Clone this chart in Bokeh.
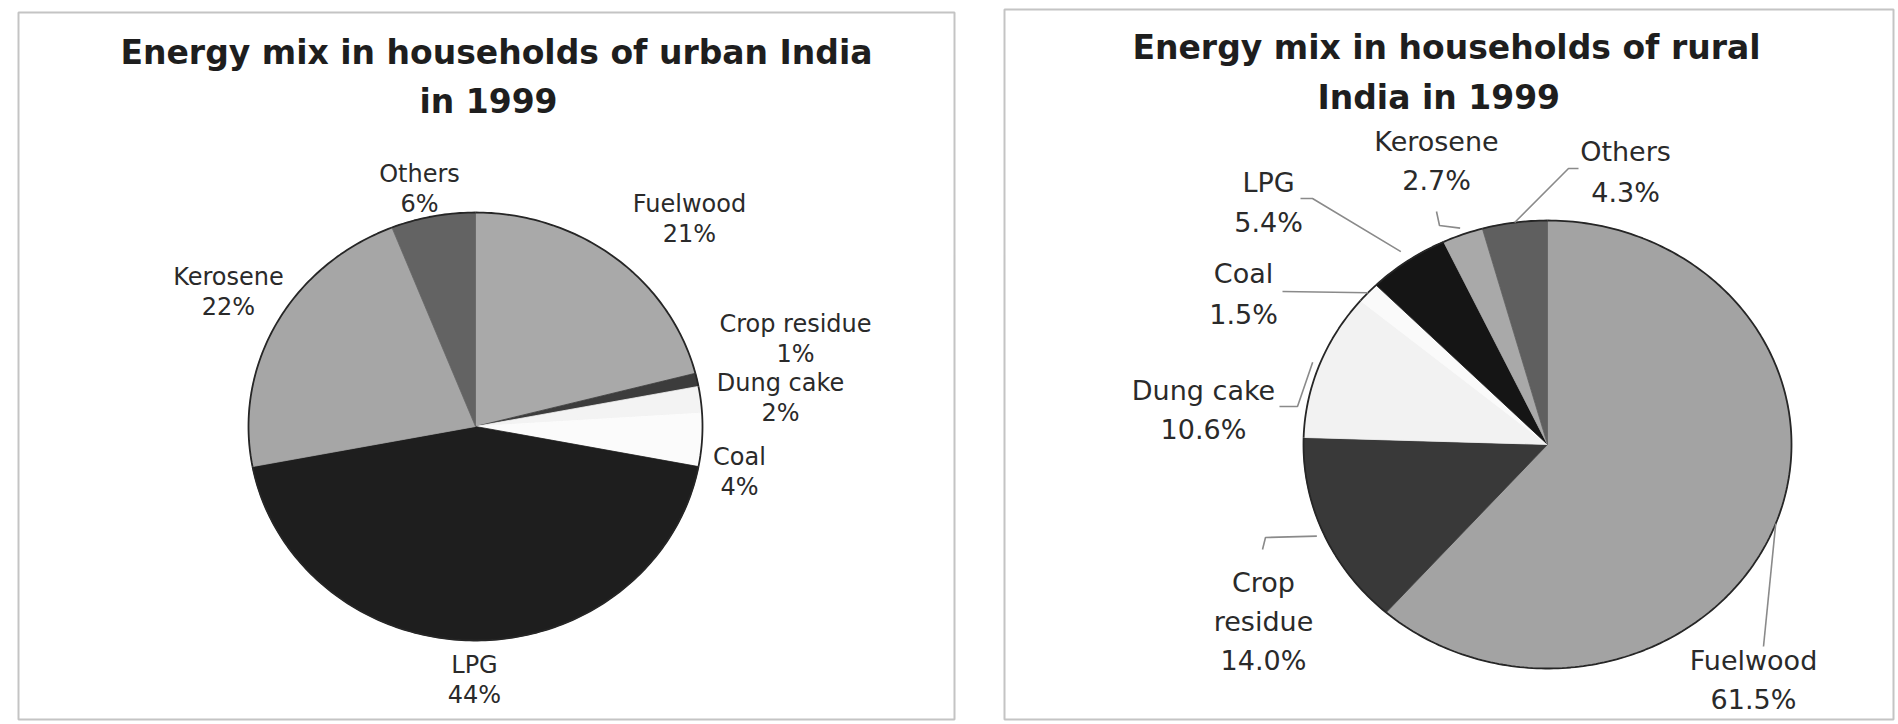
import numpy as np
from bokeh.plotting import figure
from bokeh.models import Range1d, ColumnDataSource
from bokeh.core.properties import value
from bokeh.embed import file_html
from bokeh.resources import INLINE

# ---------------- data ----------------
categories = ["Fuelwood", "Crop residue", "Dung cake", "Coal", "LPG", "Kerosene", "Others"]
urban_values = [21, 1, 2, 4, 44, 22, 6]
urban_pct = ["21%", "1%", "2%", "4%", "44%", "22%", "6%"]
rural_values = [61.5, 14.0, 10.6, 1.5, 5.4, 2.7, 4.3]
rural_pct = ["61.5%", "14.0%", "10.6%", "1.5%", "5.4%", "2.7%", "4.3%"]
urban_title = ["Energy mix in households of urban India", "in 1999"]
rural_title = ["Energy mix in households of rural", "India in  1999"]

# ---------------- styles / layout ----------------
urban_colors = ["#a9a9a9", "#3c3c3c", "#f3f3f3", "#fbfbfb", "#1e1e1e", "#a6a6a6", "#636363"]
rural_colors = ["#a3a3a3", "#393939", "#f2f2f2", "#fafafa", "#151515", "#a9a9a9", "#5f5f5f"]
FONT = "DejaVu Sans"

# ellipse geometry of each pie (page pixels): cx, cy, rx, ry
urban_geo = (475, 426, 227, 214)
rural_geo = (1547, 444, 244, 224)

# label placement: (x, first line y, line spacing, name lines)
urban_label_pos = {
    "Fuelwood": (689, 203, 30, ["Fuelwood"]),
    "Crop residue": (795, 323, 30, ["Crop residue"]),
    "Dung cake": (780, 382, 30, ["Dung cake"]),
    "Coal": (739, 456, 30, ["Coal"]),
    "LPG": (474, 664, 30, ["LPG"]),
    "Kerosene": (228, 276, 30, ["Kerosene"]),
    "Others": (419, 173, 30, ["Others"]),
}
rural_label_pos = {
    "Fuelwood": (1753, 660, 39, ["Fuelwood"]),
    "Crop residue": (1263, 582, 39, ["Crop", "residue"]),
    "Dung cake": (1203, 390, 39, ["Dung cake"]),
    "Coal": (1243, 273, 41, ["Coal"]),
    "LPG": (1268, 182, 40, ["LPG"]),
    "Kerosene": (1436, 141, 39, ["Kerosene"]),
    "Others": (1625, 151, 41, ["Others"]),
}
# leader lines: fixed label-side points, then slice edge at mid angle * factor
rural_leaders = {
    "Others": ([(1578, 168), (1568, 168)], 1.0),
    "Kerosene": ([(1436, 211), (1439, 225)], 1.03),
    "LPG": ([(1300, 198), (1312, 198)], 1.05),
    "Coal": ([(1282, 291)], 1.0),
    "Dung cake": ([(1279, 406), (1297, 406)], 1.03),
    "Crop residue": ([(1262, 549), (1265, 537)], 1.03),
    "Fuelwood": ([(1763, 646)], 1.0),
}

W, H = 1896, 722
p = figure(width=W, height=H, x_range=Range1d(0, W), y_range=Range1d(H, 0),
           output_backend="svg", toolbar_location=None, min_border=0, title=None,
           outline_line_color=None, background_fill_color="white")
p.axis.visible = False
p.grid.visible = False

# panel borders
p.quad(left=[18, 1004], right=[954, 1893], top=[12, 9], bottom=[719, 719],
       fill_color=None, line_color="#c4c4c4", line_width=2)


def slice_angles(vals):
    vals = np.asarray(vals, dtype=float)
    cum = np.concatenate([[0], np.cumsum(vals)]) / vals.sum()
    start = np.deg2rad(90 - 360 * cum[:-1])
    end = np.deg2rad(90 - 360 * cum[1:])
    return start, end


def ellipse_pt(geo, t, f=1.0):
    cx, cy, rx, ry = geo
    return cx + f * rx * np.cos(t), cy - f * ry * np.sin(t)


def draw_pie(vals, colors, geo):
    s, e = slice_angles(vals)
    xs, ys, axs, ays = [], [], [], []
    for a, b in zip(s, e):
        n = max(4, int(abs(b - a) / np.deg2rad(1)) + 2)
        t = np.linspace(a, b, n)
        ex, ey = ellipse_pt(geo, t)
        xs.append([geo[0]] + list(ex))
        ys.append([geo[1]] + list(ey))
        axs.append(list(ex))
        ays.append(list(ey))
    src = ColumnDataSource(dict(xs=xs, ys=ys, color=colors, name=categories))
    p.patches("xs", "ys", source=src, fill_color="color", line_color="color",
              line_width=0.8, line_join="round")
    # outer outline of the pie, traced along every slice's arc
    p.multi_line(axs, ays, line_color="#262626", line_width=1.8)
    return s, e


def draw_labels(pos, pcts, size):
    xs, ys, txt = [], [], []
    for name, pct in zip(categories, pcts):
        x, y, dy, lines = pos[name]
        for k, ln in enumerate(lines + [pct]):
            xs.append(x)
            ys.append(y + k * dy)
            txt.append(ln)
    p.text(x=xs, y=ys, text=txt, text_font=value(FONT), text_font_size=size,
           text_align="center", text_baseline="middle", text_color="#2a2a2a")


def draw_title(lines, x, y0, dy):
    p.text(x=[x[0], x[1]], y=[y0, y0 + dy], text=lines, text_font=value(FONT),
           text_font_size="33px", text_font_style="bold", text_align="center",
           text_baseline="middle", text_color="#1e1e1e")


draw_title(urban_title, (496, 488), 52, 49)
draw_title(rural_title, (1446, 1444), 47, 50)

draw_pie(urban_values, urban_colors, urban_geo)
rs, re_ = draw_pie(rural_values, rural_colors, rural_geo)

# rural leader lines
lx, ly = [], []
for i, name in enumerate(categories):
    pts, f = rural_leaders[name]
    mid = (rs[i] + re_[i]) / 2
    ex, ey = ellipse_pt(rural_geo, mid, f)
    lx.append([q[0] for q in pts] + [float(ex)])
    ly.append([q[1] for q in pts] + [float(ey)])
p.multi_line(lx, ly, line_color="#8a8a8a", line_width=1.6)

draw_labels(urban_label_pos, urban_pct, "24px")
draw_labels(rural_label_pos, rural_pct, "27px")

open("out.html", "w").write(file_html(p, INLINE))
